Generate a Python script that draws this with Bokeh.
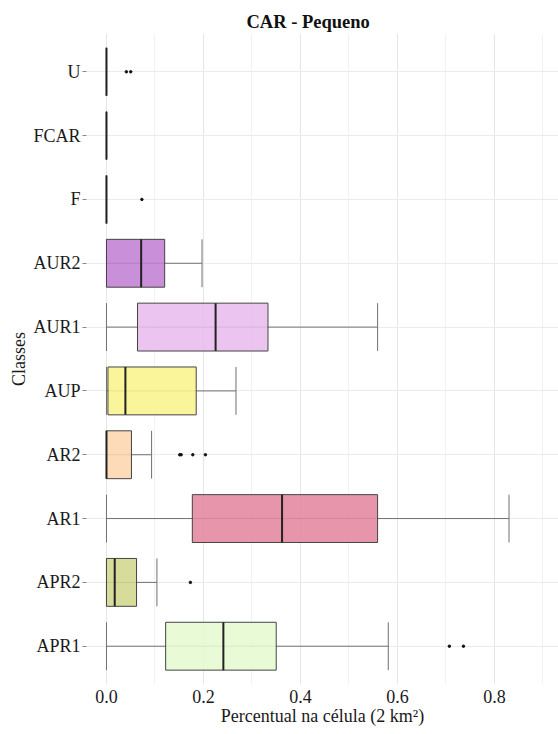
from bokeh.plotting import figure
from bokeh.models import ColumnDataSource, FactorRange, Range1d, FixedTicker, PrintfTickFormatter
from bokeh.embed import file_html
from bokeh.resources import INLINE

# ---- data ----
classes = ["U", "FCAR", "F", "AUR2", "AUR1", "AUP", "AR2", "AR1", "APR2", "APR1"]
lower  = [0, 0, 0, 0, 0, 0, 0, 0, 0, 0]
q1     = [0, 0, 0, 0, 0.064, 0.003, 0, 0.177, 0, 0.122]
median = [0, 0, 0, 0.0715, 0.225, 0.039, 0, 0.362, 0.017, 0.241]
q3     = [0, 0, 0, 0.120, 0.333, 0.185, 0.0515, 0.559, 0.062, 0.350]
upper  = [0, 0, 0, 0.197, 0.559, 0.267, 0.093, 0.830, 0.104, 0.581]
fills  = ["#9e9e9e", "#9e9e9e", "#9e9e9e", "#c280d3", "#e9bcee", "#f9f28c",
          "#fdd6ae", "#e4869e", "#d2d78c", "#e5fbd0"]

outlier_class = ["U", "U", "F", "AR2", "AR2", "AR2", "AR2", "APR2", "APR1", "APR1"]
outlier_value = [0.041, 0.050, 0.073, 0.151, 0.154, 0.178, 0.204, 0.173, 0.707, 0.736]

x_ticks = [0.0, 0.2, 0.4, 0.6, 0.8]
x_minor = [0.1, 0.3, 0.5, 0.7, 0.9]

FONT = "'Liberation Serif', 'Times New Roman', serif"
half = 0.375

src = ColumnDataSource(dict(
    cls=classes, lower=lower, q1=q1, median=median, q3=q3, upper=upper, fill=fills,
    ytop=[(c, half) for c in classes], ybot=[(c, -half) for c in classes],
))
osrc = ColumnDataSource(dict(cls=outlier_class, val=outlier_value))

p = figure(
    frame_width=472, frame_height=651,
    y_range=FactorRange(factors=list(reversed(classes)), range_padding=0.1,
                        range_padding_units="absolute"),
    x_range=Range1d(-0.0412, 0.932),
    output_backend="svg", toolbar_location=None,
    min_border_left=86, min_border_right=0, min_border_top=33, min_border_bottom=50,
    title="CAR - Pequeno",
)
p.outline_line_color = None
p.background_fill_color = "white"
p.border_fill_color = "white"

# title
p.title.text_font = FONT
p.title.text_font_size = "18.5px"
p.title.text_font_style = "bold"
p.title.text_color = "#111111"
p.title.align = "left"
p.title.offset = 160
p.title.standoff = 4

# grids
p.xgrid.ticker = FixedTicker(ticks=x_ticks, minor_ticks=x_minor)
p.xgrid.grid_line_color = "#e6e6e6"
p.xgrid.minor_grid_line_color = "#f2f2f2"
p.ygrid.grid_line_color = "#ebebeb"

# x axis
p.xaxis.ticker = FixedTicker(ticks=x_ticks, minor_ticks=x_minor)
p.xaxis.formatter = PrintfTickFormatter(format="%.1f")
p.xaxis.axis_label = "Percentual na célula (2 km²)"
p.xaxis.axis_line_color = None
p.xaxis.major_tick_line_color = None
p.xaxis.minor_tick_line_color = None
p.xaxis.major_tick_out = 0
p.xaxis.minor_tick_out = 0
p.xaxis.major_label_standoff = 5
p.xaxis.axis_label_standoff = 0

# y axis
p.yaxis.axis_label = "Classes"
p.yaxis.axis_line_color = None
p.yaxis.major_tick_line_color = "#888888"
p.yaxis.major_tick_out = 4
p.yaxis.major_tick_in = 0
p.yaxis.major_label_standoff = 2
p.yaxis.axis_label_standoff = 1

for ax in (p.xaxis, p.yaxis):
    ax.major_label_text_font = FONT
    ax.major_label_text_font_size = "18px"
    ax.major_label_text_color = "#1a1a1a"
    ax.axis_label_text_font = FONT
    ax.axis_label_text_font_size = "18px"
    ax.axis_label_text_font_style = "normal"
    ax.axis_label_text_color = "#1a1a1a"

# whisker line
p.segment(x0="lower", y0="cls", x1="upper", y1="cls", source=src,
          line_color="#707070", line_width=1)
# caps
p.segment(x0="lower", y0="ybot", x1="lower", y1="ytop", source=src,
          line_color="#707070", line_width=1)
p.segment(x0="upper", y0="ybot", x1="upper", y1="ytop", source=src,
          line_color="#707070", line_width=1)
# boxes
p.hbar(y="cls", left="q1", right="q3", height=2 * half, source=src,
       fill_color="fill", fill_alpha=0.88, line_color="#444444", line_width=1)
# medians
p.segment(x0="median", y0="ybot", x1="median", y1="ytop", source=src,
          line_color="#222222", line_width=2)
# outliers
p.scatter(x="val", y="cls", source=osrc, size=2.5, color="#111111")

open("out.html", "w").write(file_html(p, INLINE))
